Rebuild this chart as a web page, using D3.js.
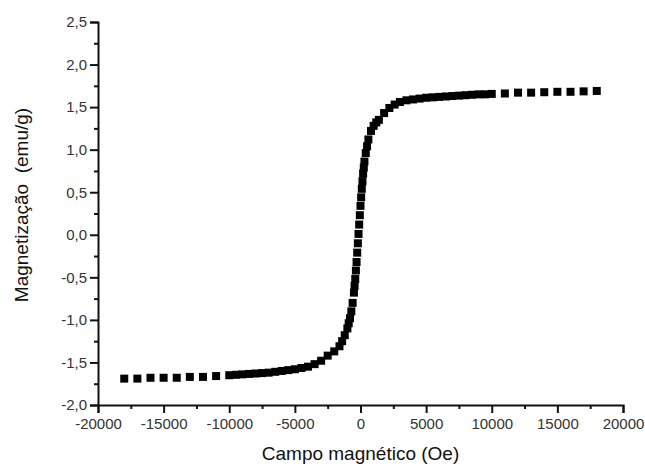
<!DOCTYPE html>
<html>
<head>
<meta charset="utf-8">
<script src="https://cdn.jsdelivr.net/npm/d3@7"></script>
<style>
  body { margin: 0; background: #fff; }
  text { font-family: "Liberation Sans", Arial, sans-serif; }
</style>
</head>
<body>
<div id="chart"></div>
<script>
// field (Oe) and magnetization (emu/g)
const fieldOe = [
  -18000, -17000, -16000, -15000, -14000, -13000, -12000, -11000,
  -10000, -9500, -9000, -8500, -8000, -7500, -7000, -6500, -6000, -5500,
  -5000, -4500, -4000, -3500, -3000, -2500, -2000, -1600, -1400, -1200,
  -1000, -900, -800, -700, -600, -500, -450, -400, -350, -300, -250, -200,
  -150, -100, -50, 0, 50, 100, 150, 200, 250, 300, 400, 500, 600, 800,
  1000, 1200, 1400, 1800, 2200, 2600, 3000, 3500, 4000, 4500, 5000, 5500,
  6000, 6500, 7000, 7500, 8000, 8500, 9000, 9500, 10000,
  11000, 12000, 13000, 14000, 15000, 16000, 17000, 18000
];
const magnetization = [
  -1.69, -1.69, -1.68, -1.68, -1.68, -1.67, -1.67, -1.66,
  -1.65, -1.645, -1.64, -1.635, -1.63, -1.625, -1.62, -1.61, -1.60, -1.59,
  -1.58, -1.565, -1.55, -1.52, -1.48, -1.42, -1.37, -1.31, -1.25, -1.18,
  -1.10, -1.04, -0.98, -0.90, -0.80, -0.68, -0.60, -0.52, -0.42, -0.32, -0.21, -0.10,
  0.01, 0.12, 0.23, 0.34, 0.44, 0.54, 0.63, 0.72, 0.79, 0.86, 0.96, 1.04, 1.12, 1.22,
  1.28, 1.32, 1.35, 1.43, 1.49, 1.53, 1.56, 1.58, 1.59, 1.60, 1.61, 1.615,
  1.62, 1.625, 1.63, 1.635, 1.64, 1.645, 1.65, 1.65, 1.655,
  1.66, 1.67, 1.67, 1.675, 1.68, 1.68, 1.685, 1.69
];
const xTicks = [-20000, -15000, -10000, -5000, 0, 5000, 10000, 15000, 20000];
const yTicks = [-2.0, -1.5, -1.0, -0.5, 0.0, 0.5, 1.0, 1.5, 2.0, 2.5];

const W = 645, H = 466;
const m = { left: 98, right: 22, top: 22, bottom: 61 };

const svg = d3.select('#chart').append('svg')
  .attr('width', W)
  .attr('height', H);

const x = d3.scaleLinear().domain([-20000, 20000]).range([m.left, W - m.right]);
const y = d3.scaleLinear().domain([-2.0, 2.5]).range([H - m.bottom, m.top]);

const loc = d3.formatLocale({ decimal: ',', thousands: '', grouping: [3], currency: ['', ''], minus: '-' });
const fy = loc.format('.1f');
const fx = loc.format('d');

// minor ticks
svg.append('g')
   .attr('transform', `translate(0,${H - m.bottom})`)
   .call(d3.axisBottom(x).tickValues(d3.range(-17500, 20000, 5000)).tickSize(4).tickFormat(''))
   .call(g => g.select('.domain').remove());
svg.append('g')
   .attr('transform', `translate(${m.left},0)`)
   .call(d3.axisLeft(y).tickValues(d3.range(-1.75, 2.5, 0.5)).tickSize(4).tickFormat(''))
   .call(g => g.select('.domain').remove());

// major axes
svg.append('g')
   .attr('transform', `translate(0,${H - m.bottom})`)
   .call(d3.axisBottom(x).tickValues(xTicks).tickSize(8).tickPadding(5).tickFormat(fx));
svg.append('g')
   .attr('transform', `translate(${m.left},0)`)
   .call(d3.axisLeft(y).tickValues(yTicks).tickSize(8).tickPadding(3).tickFormat(fy));

svg.selectAll('.domain, .tick line').attr('stroke', '#111').attr('stroke-width', 2);
svg.selectAll('.tick text')
   .attr('font-size', 15)
   .attr('fill', '#333')
   .attr('font-family', '"Liberation Sans", Arial, sans-serif');

const pts = fieldOe.map((h, i) => ({ h, mv: magnetization[i] }));
svg.append('g').selectAll('rect')
   .data(pts)
   .join('rect')
   .attr('x', d => x(d.h) - 4)
   .attr('y', d => y(d.mv) - 4)
   .attr('width', 8)
   .attr('height', 8)
   .attr('fill', '#000');

svg.append('text')
   .attr('x', (m.left + W - m.right) / 2)
   .attr('y', 460)
   .attr('text-anchor', 'middle')
   .attr('font-size', 19)
   .attr('fill', '#111')
   .text('Campo magnético (Oe)');

svg.append('text')
   .attr('transform', 'translate(28,205) rotate(-90)')
   .attr('text-anchor', 'middle')
   .attr('font-size', 19)
   .attr('fill', '#111')
   .style('white-space', 'pre')
   .text('Magnetização  (emu/g)');
</script>
</body>
</html>
